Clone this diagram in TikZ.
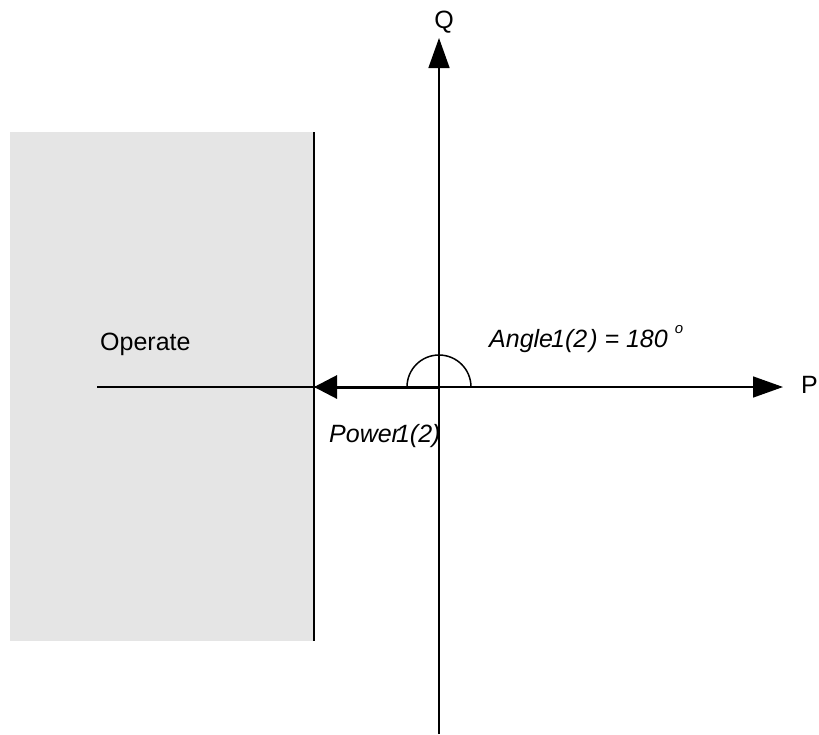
\documentclass[tikz,border=0pt]{standalone}
\usepackage{fontspec}
\setmainfont{Liberation Sans}
\usetikzlibrary{arrows.meta}
\definecolor{opgray}{HTML}{E5E5E5}
\begin{document}
\begin{tikzpicture}[x=1pt,y=-1pt,
  font=\fontsize{25}{29}\selectfont,
  axisline/.style={line width=1.5pt,-{Triangle[length=30pt,width=21pt]}},
  powerline/.style={line width=3pt,-{Triangle[length=23pt,width=23pt]}},
  lbl/.style={inner sep=0pt,anchor=base west}]
\useasboundingbox (0,0) rectangle (819,734);
% operate region
\fill[opgray] (10,132) rectangle (314,641);
\coordinate (bt) at (314,132);
\coordinate (bb) at (314,641);
\draw[line width=2pt] (bt) -- (bb);
% axes
\coordinate (O) at (439,387);
\coordinate (qbot) at (439,734);
\coordinate (qtop) at (439,38);
\coordinate (pleft) at (97,387);
\coordinate (pright) at (783,387);
\coordinate (ptip) at (314,387);
\draw[axisline] (qbot) -- (qtop);
\draw[axisline] (pleft) -- (pright);
\draw[powerline] (O) -- (ptip);
% angle arc
\draw[line width=1.5pt] (471,387) arc[start angle=0,end angle=-180,radius=32];
% labels
\node[lbl,anchor=base] (Q) at (444,28) {Q};
\node[lbl] (P) at (801,393) {P};
\node[lbl] (op) at (100,350) {Operate};
\node[lbl] (pw) at (329,442) {\itshape Power\kern-4pt 1(2)};
\node[lbl] (ang) at (489,347) {\itshape Angle\kern-2pt 1(2\kern2pt) = 180 \raisebox{14pt}{\fontsize{15}{15}\selectfont o}};
\end{tikzpicture}
\end{document}
